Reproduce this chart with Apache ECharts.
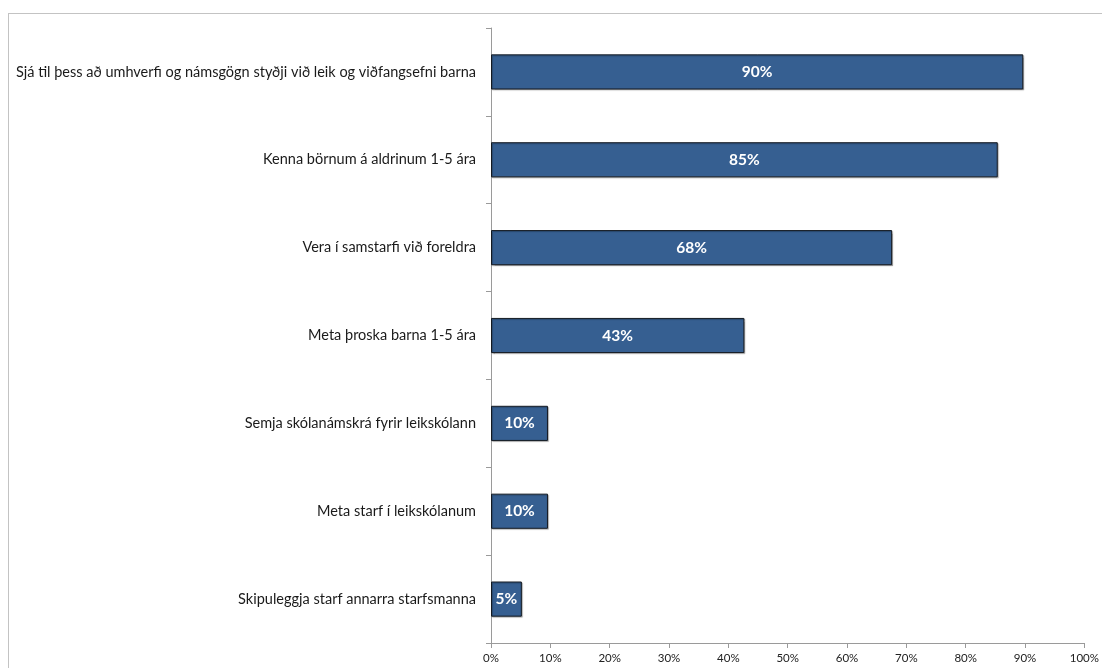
<!DOCTYPE html>
<html>
<head>
<meta charset="utf-8">
<script src="https://cdn.jsdelivr.net/npm/echarts@6/dist/echarts.min.js"></script>
<style>
html,body{margin:0;padding:0;background:#fff;}
#frame{position:absolute;left:8px;top:13px;width:1200px;height:800px;border:1px solid #c3c3c3;box-sizing:border-box;}
#chart{position:absolute;left:0;top:0;width:1102px;height:668px;}
</style>
</head>
<body>
<div id="frame"></div>
<div id="chart"></div>
<script>
const categories = [
  "Sjá til þess að umhverfi og námsgögn styðji við leik og viðfangsefni barna",
  "Kenna börnum á aldrinum 1-5 ára",
  "Vera í samstarfi við foreldra",
  "Meta þroska barna 1-5 ára",
  "Semja skólanámskrá fyrir leikskólann",
  "Meta starf í leikskólanum",
  "Skipuleggja starf annarra starfsmanna"
];
const values = [0.897, 0.854, 0.676, 0.427, 0.096, 0.096, 0.052];
const valueLabels = ["90%", "85%", "68%", "43%", "10%", "10%", "5%"];
const xTicks = [0, 0.1, 0.2, 0.3, 0.4, 0.5, 0.6, 0.7, 0.8, 0.9, 1.0];

const font = "Lato, 'Open Sans', sans-serif";
const chart = echarts.init(document.getElementById('chart'), null, {renderer: 'canvas'});
chart.setOption({
  animation: false,
  backgroundColor: 'transparent',
  grid: {left: 491, right: 16, top: 28, bottom: 25, containLabel: false},
  xAxis: {
    type: 'value', min: 0, max: 1, interval: 0.1,
    axisLine: {show: true, lineStyle: {color: '#9a9a9a', width: 1}},
    axisTick: {show: true, length: 5, lineStyle: {color: '#9a9a9a'}},
    splitLine: {show: false},
    axisLabel: {
      color: '#222', fontFamily: font, fontSize: 11.5, margin: 9,
      formatter: v => {
        const i = xTicks.findIndex(t => Math.abs(t - v) < 1e-9);
        return i >= 0 ? Math.round(xTicks[i] * 100) + '%' : '';
      }
    }
  },
  yAxis: {
    type: 'category', inverse: true, data: categories,
    axisLine: {show: true, lineStyle: {color: '#9a9a9a', width: 1}},
    axisTick: {show: true, length: 5, alignWithLabel: false, lineStyle: {color: '#9a9a9a'}},
    axisLabel: {color: '#1a1a1a', fontFamily: font, fontSize: 14.5, margin: 15}
  },
  series: [{
    type: 'bar',
    data: values,
    barCategoryGap: '60%',
    itemStyle: {
      color: '#365f91', borderColor: '#141a22', borderWidth: 1,
      shadowColor: 'rgba(0,0,0,0.25)', shadowOffsetX: 1, shadowOffsetY: 1, shadowBlur: 1
    },
    label: {
      show: true, position: 'inside', color: '#fff', fontWeight: 'bold',
      fontFamily: font, fontSize: 15.5,
      formatter: p => valueLabels[p.dataIndex]
    }
  }]
});
</script>
</body>
</html>
